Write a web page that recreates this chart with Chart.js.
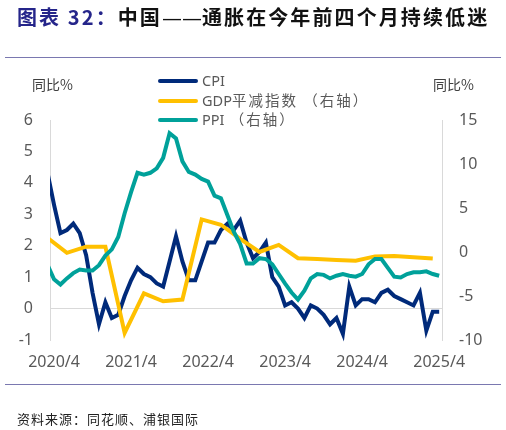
<!DOCTYPE html>
<html>
<head>
<meta charset="utf-8">
<script src="https://cdn.jsdelivr.net/npm/chart.js@4.4.1/dist/chart.umd.min.js"></script>
<style>
  body { margin: 0; background: #fff; }
  #wrap { position: relative; width: 506px; height: 430px; overflow: hidden; font-family: "Noto Sans", "Noto Sans CJK SC", sans-serif; }
  #chart { position: absolute; left: 0; top: 0; }
  .title { position: absolute; left: 17px; top: 2px; font-family: "Noto Sans CJK SC", sans-serif; font-weight: bold; font-size: 20px; letter-spacing: 2.1px; color: #111; white-space: nowrap; }
  .title .num { color: #25258a; }
  .title .dash { font-family: "DejaVu Sans", sans-serif; font-weight: normal; letter-spacing: 0; }
  .rule { position: absolute; left: 5px; width: 496px; height: 1px; background: #7a78b0; }
  .unit { position: absolute; top: 74px; font-family: "Noto Sans CJK SC", sans-serif; font-size: 14px; color: #404040; }
  .legend { position: absolute; left: 158px; top: 70px; font-size: 14.5px; color: #595959; }
  .legend div { height: 19.5px; line-height: 19.5px; white-space: nowrap; }
  .legend span.sw { display: inline-block; width: 40px; height: 4px; border-radius: 2px; vertical-align: middle; margin-right: 4px; position: relative; top: -1px; }
  .legend span.cn { font-family: "Noto Sans CJK SC", sans-serif; letter-spacing: 2px; }
  .source { position: absolute; left: 17px; top: 409px; font-family: "Noto Sans CJK SC", sans-serif; font-size: 13px; letter-spacing: 1px; color: #222; }
</style>
</head>
<body>
<div id="wrap">
  <canvas id="chart" width="506" height="430"></canvas>
  <div class="title"><span class="num">图表 32：</span>中国<span class="dash">——</span>通胀在今年前四个月持续低迷</div>
  <div class="rule" style="top:57px"></div>
  <div class="unit" style="left:32px">同比%</div>
  <div class="unit" style="left:433px">同比%</div>
  <div class="legend" id="legend"></div>
  <div class="rule" style="top:384px"></div>
  <div class="source">资料来源：同花顺、浦银国际</div>
</div>
<script>
const months = [
  '2020/3', '2020/4', '2020/5', '2020/6', '2020/7', '2020/8', '2020/9', '2020/10', '2020/11', '2020/12',
  '2021/1', '2021/2', '2021/3', '2021/4', '2021/5', '2021/6', '2021/7', '2021/8', '2021/9', '2021/10', '2021/11', '2021/12',
  '2022/1', '2022/2', '2022/3', '2022/4', '2022/5', '2022/6', '2022/7', '2022/8', '2022/9', '2022/10', '2022/11', '2022/12',
  '2023/1', '2023/2', '2023/3', '2023/4', '2023/5', '2023/6', '2023/7', '2023/8', '2023/9', '2023/10', '2023/11', '2023/12',
  '2024/1', '2024/2', '2024/3', '2024/4', '2024/5', '2024/6', '2024/7', '2024/8', '2024/9', '2024/10', '2024/11', '2024/12',
  '2025/1', '2025/2', '2025/3', '2025/4'
];
const xTickLabels = ['2020/4', '2021/4', '2022/4', '2023/4', '2024/4', '2025/4'];

// CPI, left axis
const cpi = [
  4.3, 3.3, 2.4, 2.5, 2.7, 2.4, 1.7, 0.5, -0.5, 0.2,
  -0.3, -0.2, 0.4, 0.9, 1.3, 1.1, 1.0, 0.8, 0.7, 1.5, 2.3, 1.5,
  0.9, 0.9, 1.5, 2.1, 2.1, 2.5, 2.7, 2.5, 2.8, 2.1, 1.6, 1.8,
  2.1, 1.0, 0.7, 0.1, 0.2, 0.0, -0.3, 0.1, 0.0, -0.2, -0.5, -0.3,
  -0.8, 0.7, 0.1, 0.3, 0.3, 0.2, 0.5, 0.6, 0.4, 0.3, 0.2, 0.1,
  0.5, -0.7, -0.1, -0.1
];
// GDP deflator, quarterly, right axis
const gdpDeflator = [
  1.6, null, null, -0.1, null, null, 0.6, null, null, 0.6,
  null, null, -9.2, null, null, -4.7, null, null, -5.6, null, null, -5.4,
  null, null, 3.7, null, null, 3.1, null, null, 1.5, null, null, 0.0,
  null, null, 0.8, null, null, -0.7, null, null, -0.8, null, null, -0.9,
  null, null, -1.0, null, null, -0.5, null, null, -0.45, null, null, -0.6,
  null, null, -0.75, null
];
// PPI, right axis
const ppi = [
  -1.5, -3.1, -3.7, -3.0, -2.4, -2.0, -2.1, -2.1, -1.5, -0.4,
  0.3, 1.7, 4.4, 6.8, 9.0, 8.8, 9.0, 9.5, 10.7, 13.5, 12.9, 10.3,
  9.1, 8.8, 8.3, 8.0, 6.4, 6.1, 4.2, 2.3, 0.9, -1.3, -1.3, -0.7,
  -0.8, -1.4, -2.5, -3.6, -4.6, -5.4, -4.4, -3.0, -2.5, -2.6, -3.0, -2.7,
  -2.5, -2.7, -2.8, -2.5, -1.4, -0.8, -0.8, -1.8, -2.8, -2.9, -2.5, -2.3,
  -2.3, -2.2, -2.5, -2.7
];

const series = [
  { label: 'CPI', data: cpi, color: '#002a7a', axis: 'y', order: 3 },
  { label: 'GDP平减指数（右轴）', data: gdpDeflator, color: '#ffc000', axis: 'y2', order: 2 },
  { label: 'PPI（右轴）', data: ppi, color: '#00a19a', axis: 'y2', order: 1 }
];

const toPoints = arr => arr.map((v, i) => ({ x: i, y: v }));
const tickFont = { family: '"Noto Sans", sans-serif', size: 16 };

// legend drawn as html above the plot
const legendEl = document.getElementById('legend');
series.forEach(s => {
  const row = document.createElement('div');
  const m = s.label.match(/^([A-Za-z]+)(.*)$/);
  const cn = m[2] ? m[2].replace('（', ' （') : '';
  row.innerHTML = `<span class="sw" style="background:${s.color}"></span>${m[1]}<span class="cn">${cn}</span>`;
  legendEl.appendChild(row);
});

new Chart(document.getElementById('chart'), {
  type: 'line',
  data: {
    datasets: series.map(s => ({
      label: s.label,
      data: toPoints(s.data),
      borderColor: s.color,
      backgroundColor: s.color,
      borderWidth: 4,
      pointRadius: 0,
      tension: 0,
      spanGaps: true,
      yAxisID: s.axis,
      order: s.order,
      clip: { left: 0, top: 5, right: 5, bottom: 5 }
    }))
  },
  options: {
    responsive: false,
    animation: false,
    events: [],
    layout: { padding: { left: 0, right: 0, top: 120, bottom: 0 } },
    plugins: { legend: { display: false }, tooltip: { enabled: false } },
    scales: {
      x: {
        type: 'linear',
        min: 0.37,
        max: 61.44,
        grid: { display: false, drawTicks: false },
        border: { display: false },
        afterBuildTicks: scale => {
          scale.ticks = xTickLabels.map(l => ({ value: months.indexOf(l) }));
        },
        afterFit: scale => { scale.height = 90; },
        ticks: {
          autoSkip: false,
          maxRotation: 0,
          padding: 13,
          color: '#595959',
          font: tickFont,
          callback: v => months[v]
        }
      },
      y: {
        position: 'left',
        min: -1,
        max: 6,
        grid: { drawTicks: false, color: ctx => ctx.tick.value === 0 ? '#d9d9d9' : 'rgba(0,0,0,0)' },
        border: { display: true, color: '#d9d9d9' },
        afterFit: scale => { scale.width = 50; },
        ticks: { stepSize: 1, padding: 17, color: '#595959', font: tickFont }
      },
      y2: {
        position: 'right',
        min: -10,
        max: 15,
        grid: { display: false, drawTicks: false },
        border: { display: true, color: '#d9d9d9' },
        afterFit: scale => { scale.width = 64; },
        ticks: { stepSize: 5, padding: 17, color: '#595959', font: tickFont }
      }
    }
  }
});
</script>
</body>
</html>
